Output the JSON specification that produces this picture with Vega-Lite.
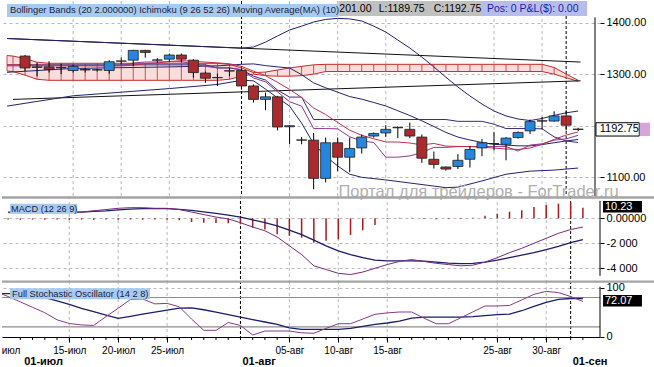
{
"$schema": "https://vega.github.io/schema/vega-lite/v6.json",
"background": "white",
"padding": 0,
"bounds": "flush",
"spacing": 0,
"config": {"view": {"stroke": null}, "font": "Liberation Sans", "axis": {"labelOverlap": false}},
"datasets": {
"candles": [{"i":0,"o":1335,"h":1337,"l":1306,"c":1312},{"i":1,"o":1313,"h":1322,"l":1296,"c":1314},{"i":2,"o":1314,"h":1325,"l":1303,"c":1309},{"i":3,"o":1313,"h":1320,"l":1300,"c":1312},{"i":4,"o":1307,"h":1318,"l":1303,"c":1315},{"i":5,"o":1309,"h":1312,"l":1303,"c":1308},{"i":6,"o":1308.5,"h":1310,"l":1305,"c":1308},{"i":7,"o":1307,"h":1327,"l":1301,"c":1324},{"i":8,"o":1325,"h":1332,"l":1319,"c":1325.5},{"i":9,"o":1327,"h":1347,"l":1316,"c":1346},{"i":10,"o":1346,"h":1347,"l":1332,"c":1342},{"i":11,"o":1327.5,"h":1331,"l":1322,"c":1327},{"i":12,"o":1329,"h":1340,"l":1324,"c":1337},{"i":13,"o":1337,"h":1340,"l":1322,"c":1329},{"i":14,"o":1327,"h":1329,"l":1293,"c":1303},{"i":15,"o":1302,"h":1305,"l":1283,"c":1292},{"i":16,"o":1293.5,"h":1301,"l":1277,"c":1293},{"i":17,"o":1306.5,"h":1312,"l":1296,"c":1306},{"i":18,"o":1307,"h":1311,"l":1270,"c":1277},{"i":19,"o":1277,"h":1280,"l":1245,"c":1251},{"i":20,"o":1251,"h":1264,"l":1230,"c":1256},{"i":21,"o":1256,"h":1258,"l":1191,"c":1197.5},{"i":22,"o":1198,"h":1201,"l":1164,"c":1200},{"i":23,"o":1172.5,"h":1178,"l":1164,"c":1172},{"i":24,"o":1172,"h":1186,"l":1077,"c":1098},{"i":25,"o":1098,"h":1177,"l":1090,"c":1167},{"i":26,"o":1167,"h":1177,"l":1112,"c":1139},{"i":27,"o":1139,"h":1177,"l":1110,"c":1156},{"i":28,"o":1157,"h":1183,"l":1146,"c":1178},{"i":29,"o":1180,"h":1187,"l":1177,"c":1185},{"i":30,"o":1186,"h":1201,"l":1178,"c":1193},{"i":31,"o":1196.5,"h":1199,"l":1176,"c":1196},{"i":32,"o":1193,"h":1206,"l":1176,"c":1180},{"i":33,"o":1178,"h":1183,"l":1128,"c":1137},{"i":34,"o":1135,"h":1150,"l":1117,"c":1125},{"i":35,"o":1120,"h":1121,"l":1113,"c":1116},{"i":36,"o":1121,"h":1145,"l":1116,"c":1133},{"i":37,"o":1135,"h":1161,"l":1119,"c":1154},{"i":38,"o":1157,"h":1174,"l":1141,"c":1167},{"i":39,"o":1165.5,"h":1188,"l":1152,"c":1165},{"i":40,"o":1164,"h":1178,"l":1133,"c":1176},{"i":41,"o":1177,"h":1189,"l":1175,"c":1187},{"i":42,"o":1190,"h":1212,"l":1184,"c":1208},{"i":43,"o":1209.5,"h":1217,"l":1193,"c":1209},{"i":44,"o":1209,"h":1228,"l":1208,"c":1219},{"i":45,"o":1219,"h":1230,"l":1191,"c":1201},{"i":46,"o":1193.5,"h":1196,"l":1189.75,"c":1192.75}],
"pl": [
{"s":"chanU","i":-1.5,"v":1369},{"s":"chanU","i":46.2,"v":1323.4},
{"s":"chanL","i":-1,"v":1251},{"s":"chanL","i":46.2,"v":1287},
{"s":"bbU","i":-1.5,"v":1369},{"s":"bbU","i":18,"v":1350.4},{"s":"bbU","i":19,"v":1352.5},{"s":"bbU","i":20,"v":1362},{"s":"bbU","i":21,"v":1374},{"s":"bbU","i":22,"v":1385.5},{"s":"bbU","i":23,"v":1393},{"s":"bbU","i":24,"v":1401},{"s":"bbU","i":25,"v":1406},{"s":"bbU","i":26,"v":1408},{"s":"bbU","i":27,"v":1407},{"s":"bbU","i":28,"v":1403},{"s":"bbU","i":29,"v":1393},{"s":"bbU","i":30,"v":1381.6},{"s":"bbU","i":31,"v":1366},{"s":"bbU","i":32,"v":1350.6},{"s":"bbU","i":33,"v":1333},{"s":"bbU","i":34,"v":1314},{"s":"bbU","i":35,"v":1294},{"s":"bbU","i":36,"v":1275},{"s":"bbU","i":37,"v":1257.6},{"s":"bbU","i":38,"v":1242},{"s":"bbU","i":39,"v":1228.5},{"s":"bbU","i":40,"v":1219},{"s":"bbU","i":41,"v":1213},{"s":"bbU","i":42,"v":1210},{"s":"bbU","i":43,"v":1214},{"s":"bbU","i":44,"v":1220},{"s":"bbU","i":45,"v":1225},{"s":"bbU","i":46,"v":1228.5},
{"s":"bbL","i":-1.5,"v":1238},{"s":"bbL","i":4,"v":1258},{"s":"bbL","i":8,"v":1265},{"s":"bbL","i":12,"v":1272},{"s":"bbL","i":16,"v":1280},{"s":"bbL","i":18,"v":1288},{"s":"bbL","i":19,"v":1287},{"s":"bbL","i":20,"v":1271},{"s":"bbL","i":21,"v":1254},{"s":"bbL","i":22,"v":1238},{"s":"bbL","i":23,"v":1205},{"s":"bbL","i":24,"v":1165},{"s":"bbL","i":25,"v":1141},{"s":"bbL","i":26,"v":1122},{"s":"bbL","i":27,"v":1106},{"s":"bbL","i":28,"v":1100},{"s":"bbL","i":30,"v":1095},{"s":"bbL","i":32,"v":1089},{"s":"bbL","i":34,"v":1083},{"s":"bbL","i":35,"v":1080},{"s":"bbL","i":36,"v":1081},{"s":"bbL","i":38,"v":1093},{"s":"bbL","i":40,"v":1106},{"s":"bbL","i":42,"v":1112},{"s":"bbL","i":44,"v":1114},{"s":"bbL","i":46,"v":1118},
{"s":"bbM","i":-1.5,"v":1303.5},{"s":"bbM","i":4,"v":1311},{"s":"bbM","i":8,"v":1312.5},{"s":"bbM","i":12,"v":1314},{"s":"bbM","i":16,"v":1316},{"s":"bbM","i":18,"v":1319},{"s":"bbM","i":19,"v":1319.8},{"s":"bbM","i":20,"v":1316.5},{"s":"bbM","i":21,"v":1314},{"s":"bbM","i":22,"v":1311.8},{"s":"bbM","i":23,"v":1299},{"s":"bbM","i":24,"v":1283},{"s":"bbM","i":25,"v":1273.5},{"s":"bbM","i":26,"v":1265},{"s":"bbM","i":27,"v":1256.5},{"s":"bbM","i":28,"v":1251.5},{"s":"bbM","i":29,"v":1245},{"s":"bbM","i":30,"v":1238.3},{"s":"bbM","i":31,"v":1229},{"s":"bbM","i":32,"v":1219.8},{"s":"bbM","i":33,"v":1209.5},{"s":"bbM","i":34,"v":1198.5},{"s":"bbM","i":35,"v":1187},{"s":"bbM","i":36,"v":1178},{"s":"bbM","i":37,"v":1172.3},{"s":"bbM","i":38,"v":1167.5},{"s":"bbM","i":39,"v":1164},{"s":"bbM","i":40,"v":1162.5},{"s":"bbM","i":41,"v":1161},{"s":"bbM","i":42,"v":1161},{"s":"bbM","i":43,"v":1163.5},{"s":"bbM","i":44,"v":1167},{"s":"bbM","i":45,"v":1170.5},{"s":"bbM","i":46,"v":1173.3},
{"s":"kijun","i":-1.5,"v":1318},{"s":"kijun","i":15,"v":1318},{"s":"kijun","i":16,"v":1312},{"s":"kijun","i":17,"v":1312},{"s":"kijun","i":18,"v":1308.5},{"s":"kijun","i":19,"v":1296},{"s":"kijun","i":20,"v":1288.5},{"s":"kijun","i":21,"v":1269},{"s":"kijun","i":22,"v":1255.5},{"s":"kijun","i":23,"v":1255.5},{"s":"kijun","i":24,"v":1212},{"s":"kijun","i":35,"v":1212},{"s":"kijun","i":36,"v":1208.5},{"s":"kijun","i":38,"v":1208.5},{"s":"kijun","i":39,"v":1203},{"s":"kijun","i":40,"v":1194.5},{"s":"kijun","i":42,"v":1194.5},{"s":"kijun","i":43,"v":1194},{"s":"kijun","i":44,"v":1178.5},{"s":"kijun","i":45,"v":1170.5},{"s":"kijun","i":46,"v":1167.5},
{"s":"tenkan","i":-1.5,"v":1316},{"s":"tenkan","i":7,"v":1316},{"s":"tenkan","i":8,"v":1316.5},{"s":"tenkan","i":9,"v":1321.5},{"s":"tenkan","i":10,"v":1323.5},{"s":"tenkan","i":11,"v":1323.5},{"s":"tenkan","i":12,"v":1324},{"s":"tenkan","i":13,"v":1324},{"s":"tenkan","i":14,"v":1320},{"s":"tenkan","i":15,"v":1315},{"s":"tenkan","i":16,"v":1312},{"s":"tenkan","i":17,"v":1312},{"s":"tenkan","i":18,"v":1308.5},{"s":"tenkan","i":19,"v":1292.5},{"s":"tenkan","i":20,"v":1285},{"s":"tenkan","i":21,"v":1265.5},{"s":"tenkan","i":22,"v":1246.5},{"s":"tenkan","i":23,"v":1238},{"s":"tenkan","i":24,"v":1194.5},{"s":"tenkan","i":25,"v":1194.5},{"s":"tenkan","i":26,"v":1194},{"s":"tenkan","i":27,"v":1178.5},{"s":"tenkan","i":28,"v":1170.5},{"s":"tenkan","i":29,"v":1167.5},{"s":"tenkan","i":30,"v":1139},{"s":"tenkan","i":31,"v":1139},{"s":"tenkan","i":32,"v":1141.5},{"s":"tenkan","i":33,"v":1148},{"s":"tenkan","i":34,"v":1158},{"s":"tenkan","i":35,"v":1158},{"s":"tenkan","i":36,"v":1159.5},{"s":"tenkan","i":40,"v":1159.5},{"s":"tenkan","i":41,"v":1151},{"s":"tenkan","i":42,"v":1162.5},{"s":"tenkan","i":43,"v":1165},{"s":"tenkan","i":44,"v":1172},{"s":"tenkan","i":45,"v":1174.5},{"s":"tenkan","i":46,"v":1181.5},
{"s":"ma10","i":-1.5,"v":1318},{"s":"ma10","i":8,"v":1316},{"s":"ma10","i":9,"v":1317.3},{"s":"ma10","i":10,"v":1320.3},{"s":"ma10","i":11,"v":1321.6},{"s":"ma10","i":12,"v":1324.4},{"s":"ma10","i":13,"v":1326.1},{"s":"ma10","i":14,"v":1324.9},{"s":"ma10","i":15,"v":1323.3},{"s":"ma10","i":16,"v":1321.8},{"s":"ma10","i":17,"v":1320},{"s":"ma10","i":18,"v":1315.2},{"s":"ma10","i":19,"v":1305.7},{"s":"ma10","i":20,"v":1297.1},{"s":"ma10","i":21,"v":1284.1},{"s":"ma10","i":22,"v":1270.4},{"s":"ma10","i":23,"v":1254.7},{"s":"ma10","i":24,"v":1234.2},{"s":"ma10","i":25,"v":1221.7},{"s":"ma10","i":26,"v":1206.3},{"s":"ma10","i":27,"v":1191.3},{"s":"ma10","i":28,"v":1181.4},{"s":"ma10","i":29,"v":1174.8},{"s":"ma10","i":30,"v":1168.5},{"s":"ma10","i":31,"v":1168.4},{"s":"ma10","i":32,"v":1166.4},{"s":"ma10","i":33,"v":1162.9},{"s":"ma10","i":34,"v":1165.6},{"s":"ma10","i":35,"v":1160.5},{"s":"ma10","i":36,"v":1159.9},{"s":"ma10","i":37,"v":1159.7},{"s":"ma10","i":38,"v":1158.6},{"s":"ma10","i":39,"v":1156.6},{"s":"ma10","i":40,"v":1154.9},{"s":"ma10","i":41,"v":1154},{"s":"ma10","i":42,"v":1156.8},{"s":"ma10","i":43,"v":1164},{"s":"ma10","i":44,"v":1173.4},{"s":"ma10","i":45,"v":1181.9},{"s":"ma10","i":46,"v":1187.9}
],
"cloud": [{"i":-1.5,"a":1336,"b":1306},{"i":-1,"a":1335,"b":1305},{"i":0,"a":1330,"b":1298},{"i":1,"a":1323,"b":1290},{"i":2,"a":1321,"b":1288},{"i":3,"a":1321,"b":1288},{"i":4,"a":1321,"b":1288},{"i":5,"a":1321,"b":1288},{"i":6,"a":1321,"b":1288},{"i":7,"a":1321,"b":1288},{"i":8,"a":1321,"b":1288},{"i":9,"a":1321,"b":1288},{"i":10,"a":1321,"b":1288},{"i":11,"a":1321,"b":1288},{"i":12,"a":1321,"b":1288},{"i":13,"a":1321,"b":1288},{"i":14,"a":1321,"b":1288},{"i":15,"a":1321,"b":1288},{"i":16,"a":1321,"b":1288},{"i":17,"a":1319,"b":1290},{"i":18,"a":1312,"b":1296},{"i":19,"a":1303,"b":1300},{"i":20,"a":1304,"b":1297},{"i":21,"a":1308,"b":1296},{"i":22,"a":1312,"b":1296},{"i":23,"a":1315,"b":1297},{"i":24,"a":1318,"b":1300},{"i":25,"a":1319,"b":1305},{"i":26,"a":1319,"b":1305},{"i":27,"a":1319,"b":1305},{"i":28,"a":1319,"b":1305},{"i":29,"a":1319,"b":1305},{"i":30,"a":1319,"b":1305},{"i":31,"a":1319,"b":1305},{"i":32,"a":1319,"b":1305},{"i":33,"a":1319,"b":1305},{"i":34,"a":1319,"b":1305},{"i":35,"a":1319,"b":1305},{"i":36,"a":1319,"b":1305},{"i":37,"a":1319,"b":1305},{"i":38,"a":1319,"b":1305},{"i":39,"a":1319,"b":1305},{"i":40,"a":1319,"b":1305},{"i":41,"a":1319,"b":1305},{"i":42,"a":1319,"b":1305},{"i":43,"a":1319,"b":1305},{"i":44,"a":1313,"b":1300},{"i":45,"a":1300,"b":1293},{"i":46,"a":1288,"b":1286}],
"macd": [{"i":-1,"m":0.45,"s":0.5,"h":-0.1},{"i":0,"m":0.45,"s":0.5,"h":-0.12},{"i":1,"m":0.45,"s":0.5,"h":-0.1},{"i":2,"m":0.45,"s":0.5,"h":-0.12},{"i":3,"m":0.45,"s":0.5,"h":-0.1},{"i":4,"m":0.45,"s":0.5,"h":-0.12},{"i":5,"m":0.5,"s":0.5,"h":-0.1},{"i":6,"m":0.6,"s":0.55,"h":-0.12},{"i":7,"m":0.7,"s":0.6,"h":-0.1},{"i":8,"m":0.8,"s":0.68,"h":-0.12},{"i":9,"m":0.85,"s":0.74,"h":-0.1},{"i":10,"m":0.85,"s":0.78,"h":-0.12},{"i":11,"m":0.8,"s":0.78,"h":-0.1},{"i":12,"m":0.8,"s":0.77,"h":-0.12},{"i":13,"m":0.7,"s":0.72,"h":-0.15},{"i":14,"m":0.5,"s":0.63,"h":-0.3},{"i":15,"m":0.3,"s":0.52,"h":-0.35},{"i":16,"m":0.1,"s":0.4,"h":-0.38},{"i":17,"m":-0.05,"s":0.25,"h":-0.4},{"i":18,"m":-0.35,"s":0.1,"h":-0.48},{"i":19,"m":-0.7,"s":-0.12,"h":-0.75},{"i":20,"m":-1.0,"s":-0.35,"h":-0.9},{"i":21,"m":-1.5,"s":-0.6,"h":-1.28},{"i":22,"m":-2.2,"s":-0.95,"h":-1.4},{"i":23,"m":-2.9,"s":-1.3,"h":-1.55},{"i":24,"m":-3.8,"s":-1.75,"h":-1.95},{"i":25,"m":-4.1,"s":-2.2,"h":-1.8},{"i":26,"m":-4.4,"s":-2.6,"h":-1.68},{"i":27,"m":-4.5,"s":-2.9,"h":-1.33},{"i":28,"m":-4.3,"s":-3.15,"h":-0.96},{"i":29,"m":-4.0,"s":-3.35,"h":-0.53},{"i":30,"m":-3.7,"s":-3.4,"h":-0.05},{"i":31,"m":-3.45,"s":-3.4,"h":0.04},{"i":32,"m":-3.3,"s":-3.4,"h":0.04},{"i":33,"m":-3.45,"s":-3.42,"h":-0.05},{"i":34,"m":-3.6,"s":-3.5,"h":-0.08},{"i":35,"m":-3.7,"s":-3.58,"h":-0.05},{"i":36,"m":-3.8,"s":-3.63,"h":-0.05},{"i":37,"m":-3.75,"s":-3.6,"h":0.05},{"i":38,"m":-3.5,"s":-3.5,"h":0.2},{"i":39,"m":-3.15,"s":-3.35,"h":0.37},{"i":40,"m":-2.75,"s":-3.15,"h":0.53},{"i":41,"m":-2.4,"s":-2.95,"h":0.64},{"i":42,"m":-2.0,"s":-2.75,"h":0.9},{"i":43,"m":-1.6,"s":-2.5,"h":1.07},{"i":44,"m":-1.2,"s":-2.25,"h":1.17},{"i":45,"m":-0.9,"s":-1.95,"h":1.25},{"i":46,"m":-0.7,"s":-1.7,"h":0.85}],
"stoch": [{"i":-1.5,"k":87,"d":88},{"i":-1,"k":82,"d":88},{"i":0,"k":71,"d":88},{"i":1,"k":60,"d":87},{"i":2,"k":49,"d":80},{"i":3,"k":34.5,"d":73},{"i":4,"k":27,"d":66},{"i":5,"k":24,"d":58},{"i":6,"k":23,"d":51},{"i":7,"k":41,"d":44},{"i":8,"k":58,"d":37.5},{"i":9,"k":76,"d":41.7},{"i":10,"k":77,"d":45.9},{"i":11,"k":67,"d":50},{"i":12,"k":68,"d":54.3},{"i":13,"k":61,"d":58.5},{"i":14,"k":36,"d":59},{"i":15,"k":13,"d":55},{"i":16,"k":13,"d":50},{"i":17,"k":29,"d":45},{"i":18,"k":23,"d":40},{"i":19,"k":3.5,"d":35},{"i":20,"k":11.6,"d":30},{"i":21,"k":11.6,"d":25},{"i":22,"k":11.6,"d":18},{"i":23,"k":8,"d":15},{"i":24,"k":7,"d":15},{"i":25,"k":17,"d":15},{"i":26,"k":26.5,"d":15},{"i":27,"k":26.5,"d":17},{"i":28,"k":36,"d":21},{"i":29,"k":45.7,"d":25},{"i":30,"k":48.6,"d":28},{"i":31,"k":50.4,"d":32},{"i":32,"k":50.4,"d":38},{"i":33,"k":38,"d":40},{"i":34,"k":26.5,"d":40},{"i":35,"k":26.5,"d":40},{"i":36,"k":38.5,"d":40},{"i":37,"k":50.6,"d":41},{"i":38,"k":62.7,"d":43},{"i":39,"k":62.7,"d":45},{"i":40,"k":63.8,"d":46},{"i":41,"k":75,"d":53},{"i":42,"k":86.5,"d":62},{"i":43,"k":92.5,"d":70},{"i":44,"k":90,"d":76},{"i":45,"k":82,"d":78},{"i":46,"k":72,"d":78}],
"vgw": [{"i":4},{"i":8},{"i":12},{"i":22},{"i":26},{"i":30},{"i":39},{"i":43}],
"vgm": [{"i":18},{"i":45}],
"levels": [{"v":20},{"v":80}],
"months": [{"t":"01-июл","i":0.15},{"t":"01-авг","i":18},{"t":"01-сен","i":45}]
},
"vconcat": [
{
"width": 598, "height": 195,
"layer": [
{"data": {"name": "vgw"}, "mark": {"type": "rule", "color": "#b8b8b8", "strokeDash": [3,3]}, "encoding": {"x": {"field": "i", "type": "quantitative", "scale": {"domain": [-1.5, 47.4], "nice": false, "zero": false}, "axis": null, "title": null}}},
{"data": {"name": "vgm"}, "mark": {"type": "rule", "color": "#000000", "strokeDash": [3,2]}, "encoding": {"x": {"field": "i", "type": "quantitative", "scale": {"domain": [-1.5, 47.4], "nice": false, "zero": false}, "axis": null, "title": null}}},
{"data": {"name": "cloud"}, "mark": {"type": "area", "color": "#f9dcdc", "clip": true}, "encoding": {"x": {"field": "i", "type": "quantitative", "scale": {"domain": [-1.5, 47.4], "nice": false, "zero": false}, "axis": null, "title": null}, "y": {"field": "a", "type": "quantitative", "scale": {"domain": [1063.8, 1441.7], "nice": false, "zero": false}, "title": null, "axis": {"orient": "right", "values": [1100,1150,1200,1250,1300,1350,1400], "labelExpr": "datum.value == 1200 ? '' : format(datum.value, '.2f')", "grid": true, "gridColor": "#b8b8b8", "gridDash": [3,3], "domain": false, "tickSize": 4, "tickColor": "#000", "labelColor": "#000", "labelFontSize": 11, "labelPadding": 2, "labelFont": "Liberation Sans"}}, "y2": {"field": "b"}}},
{"data": {"name": "cloud"}, "mark": {"type": "rule", "color": "#d05050", "clip": true}, "encoding": {"x": {"field": "i", "type": "quantitative", "scale": {"domain": [-1.5, 47.4], "nice": false, "zero": false}, "axis": null, "title": null}, "y": {"field": "a", "type": "quantitative", "scale": {"domain": [1063.8, 1441.7], "nice": false, "zero": false}, "title": null}, "y2": {"field": "b"}}},
{"data": {"name": "cloud"}, "mark": {"type": "line", "color": "#c42a2a", "strokeWidth": 1, "clip": true}, "encoding": {"x": {"field": "i", "type": "quantitative", "scale": {"domain": [-1.5, 47.4], "nice": false, "zero": false}, "axis": null, "title": null}, "y": {"field": "a", "type": "quantitative", "scale": {"domain": [1063.8, 1441.7], "nice": false, "zero": false}, "title": null}}},
{"data": {"name": "cloud"}, "mark": {"type": "line", "color": "#c42a2a", "strokeWidth": 1, "clip": true}, "encoding": {"x": {"field": "i", "type": "quantitative", "scale": {"domain": [-1.5, 47.4], "nice": false, "zero": false}, "axis": null, "title": null}, "y": {"field": "b", "type": "quantitative", "scale": {"domain": [1063.8, 1441.7], "nice": false, "zero": false}, "title": null}}},
{"data": {"name": "pl"}, "mark": {"type": "line", "strokeWidth": 1, "clip": true}, "encoding": {"x": {"field": "i", "type": "quantitative", "scale": {"domain": [-1.5, 47.4], "nice": false, "zero": false}, "axis": null, "title": null}, "y": {"field": "v", "type": "quantitative", "scale": {"domain": [1063.8, 1441.7], "nice": false, "zero": false}, "title": null}, "color": {"field": "s", "type": "nominal", "legend": null, "scale": {"domain": ["chanU","chanL","bbU","bbM","bbL","kijun","tenkan","ma10"], "range": ["#111111","#111111","#22226e","#22226e","#22226e","#3a2a78","#8e3a8e","#c0304c"]}}}},
{"data": {"name": "candles"}, "mark": {"type": "rule", "color": "#000000", "strokeWidth": 1, "clip": true}, "encoding": {"x": {"field": "i", "type": "quantitative", "scale": {"domain": [-1.5, 47.4], "nice": false, "zero": false}, "axis": null, "title": null}, "y": {"field": "l", "type": "quantitative", "scale": {"domain": [1063.8, 1441.7], "nice": false, "zero": false}, "title": null}, "y2": {"field": "h"}}},
{"data": {"name": "candles"}, "mark": {"type": "bar", "width": 10, "stroke": "#1e1e1e", "strokeWidth": 0.8, "clip": true}, "encoding": {"x": {"field": "i", "type": "quantitative", "scale": {"domain": [-1.5, 47.4], "nice": false, "zero": false}, "axis": null, "title": null}, "y": {"field": "o", "type": "quantitative", "scale": {"domain": [1063.8, 1441.7], "nice": false, "zero": false}, "title": null}, "y2": {"field": "c"}, "color": {"condition": {"test": "datum.c < datum.o", "value": "#aa2a2e"}, "value": "#2586e0"}}},
{"data": {"values": [{}]}, "mark": {"type": "rule", "color": "#000000", "strokeWidth": 1, "clip": false}, "encoding": {"x": {"datum": 47.4, "type": "quantitative", "scale": {"domain": [-1.5, 47.4], "nice": false, "zero": false}, "axis": null}, "y": {"datum": 1410, "type": "quantitative", "scale": {"domain": [1063.8, 1441.7], "nice": false, "zero": false}}, "y2": {"datum": 1063.8}}},
{"data": {"values": [{}]}, "mark": {"type": "rect", "color": "#a6caf0"}, "encoding": {"x": {"datum": -1.5, "type": "quantitative", "scale": {"domain": [-1.5, 47.4], "nice": false, "zero": false}, "axis": null}, "x2": {"datum": 26.06}, "y": {"datum": 1435.9, "type": "quantitative", "scale": {"domain": [1063.8, 1441.7], "nice": false, "zero": false}}, "y2": {"datum": 1410.7}}},
{"data": {"values": [{}]}, "mark": {"type": "rect", "color": "#c0c0c0"}, "encoding": {"x": {"datum": 26.06, "type": "quantitative", "scale": {"domain": [-1.5, 47.4], "nice": false, "zero": false}, "axis": null}, "x2": {"datum": 38.0}, "y": {"datum": 1441.7, "type": "quantitative", "scale": {"domain": [1063.8, 1441.7], "nice": false, "zero": false}}, "y2": {"datum": 1412.6}}},
{"data": {"values": [{}]}, "mark": {"type": "rect", "color": "#b6bdea"}, "encoding": {"x": {"datum": 38.0, "type": "quantitative", "scale": {"domain": [-1.5, 47.4], "nice": false, "zero": false}, "axis": null}, "x2": {"datum": 46.75}, "y": {"datum": 1441.7, "type": "quantitative", "scale": {"domain": [1063.8, 1441.7], "nice": false, "zero": false}}, "y2": {"datum": 1412.6}}},
{"data": {"values": [{}]}, "mark": {"type": "text", "text": "Bollinger Bands (20 2.000000)  Ichimoku (9 26 52 26)  Moving Average(MA) (10)", "align": "left", "baseline": "middle", "fontSize": 9.4, "color": "#1c1c3c", "font": "Liberation Sans"}, "encoding": {"x": {"datum": -1.25, "type": "quantitative", "scale": {"domain": [-1.5, 47.4], "nice": false, "zero": false}, "axis": null}, "y": {"datum": 1423.3, "type": "quantitative", "scale": {"domain": [1063.8, 1441.7], "nice": false, "zero": false}}}},
{"data": {"values": [{}]}, "mark": {"type": "text", "text": "201.00", "align": "left", "baseline": "middle", "fontSize": 10.5, "color": "#000000", "font": "Liberation Sans"}, "encoding": {"x": {"datum": 26.14, "type": "quantitative", "scale": {"domain": [-1.5, 47.4], "nice": false, "zero": false}, "axis": null}, "y": {"datum": 1425.3, "type": "quantitative", "scale": {"domain": [1063.8, 1441.7], "nice": false, "zero": false}}}},
{"data": {"values": [{}]}, "mark": {"type": "text", "text": "L:1189.75", "align": "left", "baseline": "middle", "fontSize": 10.5, "color": "#000000", "font": "Liberation Sans"}, "encoding": {"x": {"datum": 29.41, "type": "quantitative", "scale": {"domain": [-1.5, 47.4], "nice": false, "zero": false}, "axis": null}, "y": {"datum": 1425.3, "type": "quantitative", "scale": {"domain": [1063.8, 1441.7], "nice": false, "zero": false}}}},
{"data": {"values": [{}]}, "mark": {"type": "text", "text": "C:1192.75", "align": "left", "baseline": "middle", "fontSize": 10.5, "color": "#000000", "font": "Liberation Sans"}, "encoding": {"x": {"datum": 33.98, "type": "quantitative", "scale": {"domain": [-1.5, 47.4], "nice": false, "zero": false}, "axis": null}, "y": {"datum": 1425.3, "type": "quantitative", "scale": {"domain": [1063.8, 1441.7], "nice": false, "zero": false}}}},
{"data": {"values": [{}]}, "mark": {"type": "text", "text": "Pos: 0 P&L($): 0.00", "align": "left", "baseline": "middle", "fontSize": 10.5, "color": "#1a1ab4", "font": "Liberation Sans"}, "encoding": {"x": {"datum": 38.41, "type": "quantitative", "scale": {"domain": [-1.5, 47.4], "nice": false, "zero": false}, "axis": null}, "y": {"datum": 1425.3, "type": "quantitative", "scale": {"domain": [1063.8, 1441.7], "nice": false, "zero": false}}}},
{"data": {"values": [{}]}, "mark": {"type": "rect", "color": "#ffffff", "stroke": "#000000", "strokeWidth": 1, "clip": false}, "encoding": {"x": {"datum": 47.48, "type": "quantitative", "scale": {"domain": [-1.5, 47.4], "nice": false, "zero": false}, "axis": null}, "x2": {"datum": 51.08}, "y": {"datum": 1205.8, "type": "quantitative", "scale": {"domain": [1063.8, 1441.7], "nice": false, "zero": false}}, "y2": {"datum": 1180}}},
{"data": {"values": [{}]}, "mark": {"type": "rect", "color": "#d7a6d7", "clip": false}, "encoding": {"x": {"datum": 51.12, "type": "quantitative", "scale": {"domain": [-1.5, 47.4], "nice": false, "zero": false}, "axis": null}, "x2": {"datum": 51.97}, "y": {"datum": 1205.8, "type": "quantitative", "scale": {"domain": [1063.8, 1441.7], "nice": false, "zero": false}}, "y2": {"datum": 1180}}},
{"data": {"values": [{}]}, "mark": {"type": "text", "text": "1192.75", "align": "left", "baseline": "middle", "fontSize": 11, "color": "#000000", "font": "Liberation Sans", "clip": false}, "encoding": {"x": {"datum": 47.8, "type": "quantitative", "scale": {"domain": [-1.5, 47.4], "nice": false, "zero": false}, "axis": null}, "y": {"datum": 1192.75, "type": "quantitative", "scale": {"domain": [1063.8, 1441.7], "nice": false, "zero": false}}}},
{"data": {"values": [{}]}, "mark": {"type": "text", "text": "Портал для трейдеров - ForTrader.ru", "align": "left", "baseline": "alphabetic", "fontSize": 16.5, "color": "#b0b0b0", "font": "Liberation Sans", "clip": false}, "encoding": {"x": {"datum": 26.06, "type": "quantitative", "scale": {"domain": [-1.5, 47.4], "nice": false, "zero": false}, "axis": null}, "y": {"datum": 1062.5, "type": "quantitative", "scale": {"domain": [1063.8, 1441.7], "nice": false, "zero": false}}}}
]
},
{
"width": 598, "height": 85,
"layer": [
{"data": {"name": "vgw"}, "mark": {"type": "rule", "color": "#b8b8b8", "strokeDash": [3,3]}, "encoding": {"x": {"field": "i", "type": "quantitative", "scale": {"domain": [-1.5, 47.4], "nice": false, "zero": false}, "axis": null, "title": null}}},
{"data": {"name": "vgm"}, "mark": {"type": "rule", "color": "#000000", "strokeDash": [3,2]}, "encoding": {"x": {"field": "i", "type": "quantitative", "scale": {"domain": [-1.5, 47.4], "nice": false, "zero": false}, "axis": null, "title": null}}},
{"data": {"name": "macd"}, "mark": {"type": "rule", "color": "#a81c1c", "strokeWidth": 1.5, "clip": true}, "encoding": {"x": {"field": "i", "type": "quantitative", "scale": {"domain": [-1.5, 47.4], "nice": false, "zero": false}, "axis": null, "title": null}, "y": {"field": "h", "type": "quantitative", "scale": {"domain": [-5.016, 1.784], "nice": false, "zero": false}, "title": null, "axis": {"orient": "right", "values": [0, -2, -4], "labelExpr": "datum.value == 0 ? '0.00000' : (datum.value == -2 ? '-2 000' : '-4 000')", "grid": true, "gridColor": "#b8b8b8", "gridDash": [3,3], "domain": false, "tickSize": 4, "tickColor": "#000", "labelColor": "#000", "labelFontSize": 11, "labelPadding": 2, "labelFont": "Liberation Sans"}}, "y2": {"datum": 0}}},
{"data": {"name": "macd"}, "mark": {"type": "line", "color": "#1c1c6c", "strokeWidth": 1.3, "clip": true}, "encoding": {"x": {"field": "i", "type": "quantitative", "scale": {"domain": [-1.5, 47.4], "nice": false, "zero": false}, "axis": null, "title": null}, "y": {"field": "s", "type": "quantitative", "scale": {"domain": [-5.016, 1.784], "nice": false, "zero": false}, "title": null}}},
{"data": {"name": "macd"}, "mark": {"type": "line", "color": "#7a2a7a", "strokeWidth": 1, "clip": true}, "encoding": {"x": {"field": "i", "type": "quantitative", "scale": {"domain": [-1.5, 47.4], "nice": false, "zero": false}, "axis": null, "title": null}, "y": {"field": "m", "type": "quantitative", "scale": {"domain": [-5.016, 1.784], "nice": false, "zero": false}, "title": null}}},
{"data": {"values": [{}]}, "mark": {"type": "rule", "color": "#000000", "strokeWidth": 1, "clip": false}, "encoding": {"x": {"datum": 47.4, "type": "quantitative", "scale": {"domain": [-1.5, 47.4], "nice": false, "zero": false}, "axis": null}, "y": {"datum": 1.4, "type": "quantitative", "scale": {"domain": [-5.016, 1.784], "nice": false, "zero": false}}, "y2": {"datum": -4.6}}},
{"data": {"values": [{}]}, "mark": {"type": "rule", "color": "#a4a4a4", "strokeWidth": 2.6, "clip": false}, "encoding": {"x": {"datum": -1.5, "type": "quantitative", "scale": {"domain": [-1.5, 47.4], "nice": false, "zero": false}, "axis": null}, "x2": {"datum": 51.97}, "y": {"datum": 1.664, "type": "quantitative", "scale": {"domain": [-5.016, 1.784], "nice": false, "zero": false}}}},
{"data": {"values": [{}]}, "mark": {"type": "rect", "color": "#a6caf0"}, "encoding": {"x": {"datum": -0.84, "type": "quantitative", "scale": {"domain": [-1.5, 47.4], "nice": false, "zero": false}, "axis": null}, "x2": {"datum": 4.64}, "y": {"datum": 1.168, "type": "quantitative", "scale": {"domain": [-5.016, 1.784], "nice": false, "zero": false}}, "y2": {"datum": 0.368}}},
{"data": {"values": [{}]}, "mark": {"type": "text", "text": "MACD (12 26 9)", "align": "left", "baseline": "middle", "fontSize": 9.2, "color": "#1c1c3c", "font": "Liberation Sans"}, "encoding": {"x": {"datum": -0.76, "type": "quantitative", "scale": {"domain": [-1.5, 47.4], "nice": false, "zero": false}, "axis": null}, "y": {"datum": 0.768, "type": "quantitative", "scale": {"domain": [-5.016, 1.784], "nice": false, "zero": false}}}},
{"data": {"values": [{}]}, "mark": {"type": "rect", "color": "#000000", "clip": false}, "encoding": {"x": {"datum": 47.65, "type": "quantitative", "scale": {"domain": [-1.5, 47.4], "nice": false, "zero": false}, "axis": null}, "x2": {"datum": 50.83}, "y": {"datum": 1.38, "type": "quantitative", "scale": {"domain": [-5.016, 1.784], "nice": false, "zero": false}}, "y2": {"datum": 0.46}}},
{"data": {"values": [{}]}, "mark": {"type": "text", "text": "10.23", "align": "left", "baseline": "middle", "fontSize": 11, "color": "#ffffff", "font": "Liberation Sans", "clip": false}, "encoding": {"x": {"datum": 47.8, "type": "quantitative", "scale": {"domain": [-1.5, 47.4], "nice": false, "zero": false}, "axis": null}, "y": {"datum": 0.9, "type": "quantitative", "scale": {"domain": [-5.016, 1.784], "nice": false, "zero": false}}}}
]
},
{
"width": 598, "height": 56,
"layer": [
{"data": {"name": "vgw"}, "mark": {"type": "rule", "color": "#b8b8b8", "strokeDash": [3,3]}, "encoding": {"x": {"field": "i", "type": "quantitative", "scale": {"domain": [-1.5, 47.4], "nice": false, "zero": false}, "title": null, "axis": {"orient": "bottom", "values": [4, 8, 12, 22, 26, 30, 39, 43], "labelExpr": "datum.value == 4 ? '15-июл' : datum.value == 8 ? '20-июл' : datum.value == 12 ? '25-июл' : datum.value == 22 ? '05-авг' : datum.value == 26 ? '10-авг' : datum.value == 30 ? '15-авг' : datum.value == 39 ? '25-авг' : '30-авг'", "tickSize": 5, "tickColor": "#000", "domainColor": "#000", "labelColor": "#000", "labelFontSize": 10, "labelPadding": 3, "labelOverlap": false, "labelFlush": false, "labelBound": false, "grid": false, "labelFont": "Liberation Sans"}}}},
{"data": {"name": "vgm"}, "mark": {"type": "rule", "color": "#000000", "strokeDash": [3,2]}, "encoding": {"x": {"field": "i", "type": "quantitative", "scale": {"domain": [-1.5, 47.4], "nice": false, "zero": false}, "title": null}}},
{"data": {"name": "candles"}, "mark": {"type": "rule", "color": "#000000", "strokeWidth": 1, "clip": false}, "encoding": {"x": {"field": "i", "type": "quantitative", "scale": {"domain": [-1.5, 47.4], "nice": false, "zero": false}, "title": null}, "y": {"datum": -0.6, "type": "quantitative", "scale": {"domain": [-0.6, 113.7], "nice": false, "zero": false}}, "y2": {"datum": -6.7}}},
{"data": {"name": "levels"}, "mark": {"type": "rule", "color": "#8c8c8c", "strokeWidth": 1.2}, "encoding": {"y": {"field": "v", "type": "quantitative", "scale": {"domain": [-0.6, 113.7], "nice": false, "zero": false}, "title": null, "axis": {"orient": "right", "values": [0, 50, 100], "grid": true, "gridColor": "#b8b8b8", "gridDash": [3,3], "domain": false, "tickSize": 4, "tickColor": "#000", "labelColor": "#000", "labelFontSize": 11, "labelPadding": 2, "labelFont": "Liberation Sans"}}}},
{"data": {"name": "stoch"}, "mark": {"type": "line", "color": "#1c1c6c", "strokeWidth": 1.3, "clip": true}, "encoding": {"x": {"field": "i", "type": "quantitative", "scale": {"domain": [-1.5, 47.4], "nice": false, "zero": false}, "title": null}, "y": {"field": "d", "type": "quantitative", "scale": {"domain": [-0.6, 113.7], "nice": false, "zero": false}, "title": null}}},
{"data": {"name": "stoch"}, "mark": {"type": "line", "color": "#8a3a8a", "strokeWidth": 1, "clip": true}, "encoding": {"x": {"field": "i", "type": "quantitative", "scale": {"domain": [-1.5, 47.4], "nice": false, "zero": false}, "title": null}, "y": {"field": "k", "type": "quantitative", "scale": {"domain": [-0.6, 113.7], "nice": false, "zero": false}, "title": null}}},
{"data": {"values": [{}]}, "mark": {"type": "rule", "color": "#000000", "strokeWidth": 1, "clip": false}, "encoding": {"x": {"datum": 47.4, "type": "quantitative", "scale": {"domain": [-1.5, 47.4], "nice": false, "zero": false}}, "y": {"datum": 102, "type": "quantitative", "scale": {"domain": [-0.6, 113.7], "nice": false, "zero": false}}, "y2": {"datum": -0.6}}},
{"data": {"values": [{}]}, "mark": {"type": "rule", "color": "#a4a4a4", "strokeWidth": 2.4, "clip": false}, "encoding": {"x": {"datum": -1.5, "type": "quantitative", "scale": {"domain": [-1.5, 47.4], "nice": false, "zero": false}}, "x2": {"datum": 51.97}, "y": {"datum": 112.5, "type": "quantitative", "scale": {"domain": [-0.6, 113.7], "nice": false, "zero": false}}}},
{"data": {"values": [{}]}, "mark": {"type": "rect", "color": "#a6caf0"}, "encoding": {"x": {"datum": -0.84, "type": "quantitative", "scale": {"domain": [-1.5, 47.4], "nice": false, "zero": false}}, "x2": {"datum": 10.6}, "y": {"datum": 99, "type": "quantitative", "scale": {"domain": [-0.6, 113.7], "nice": false, "zero": false}}, "y2": {"datum": 76.5}}},
{"data": {"values": [{}]}, "mark": {"type": "text", "text": "Full Stochastic Oscillator (14 2 8)", "align": "left", "baseline": "middle", "fontSize": 9.3, "color": "#1c1c3c", "font": "Liberation Sans"}, "encoding": {"x": {"datum": -0.68, "type": "quantitative", "scale": {"domain": [-1.5, 47.4], "nice": false, "zero": false}}, "y": {"datum": 87.7, "type": "quantitative", "scale": {"domain": [-0.6, 113.7], "nice": false, "zero": false}}}},
{"data": {"values": [{}]}, "mark": {"type": "rect", "color": "#000000", "clip": false}, "encoding": {"x": {"datum": 47.65, "type": "quantitative", "scale": {"domain": [-1.5, 47.4], "nice": false, "zero": false}}, "x2": {"datum": 50.83}, "y": {"datum": 85.1, "type": "quantitative", "scale": {"domain": [-0.6, 113.7], "nice": false, "zero": false}}, "y2": {"datum": 61.6}}},
{"data": {"values": [{}]}, "mark": {"type": "text", "text": "72.07", "align": "left", "baseline": "middle", "fontSize": 11, "color": "#ffffff", "font": "Liberation Sans", "clip": false}, "encoding": {"x": {"datum": 47.8, "type": "quantitative", "scale": {"domain": [-1.5, 47.4], "nice": false, "zero": false}}, "y": {"datum": 73.3, "type": "quantitative", "scale": {"domain": [-0.6, 113.7], "nice": false, "zero": false}}}},
{"data": {"name": "months"}, "mark": {"type": "text", "align": "left", "baseline": "middle", "dx": 2, "fontSize": 11, "fontWeight": "bold", "color": "#000000", "font": "Liberation Sans", "clip": false}, "encoding": {"x": {"field": "i", "type": "quantitative", "scale": {"domain": [-1.5, 47.4], "nice": false, "zero": false}, "title": null}, "y": {"datum": -51.6, "type": "quantitative", "scale": {"domain": [-0.6, 113.7], "nice": false, "zero": false}}, "text": {"field": "t"}}},
{"data": {"values": [{}]}, "mark": {"type": "text", "text": "июл", "align": "right", "baseline": "middle", "fontSize": 10, "color": "#000000", "font": "Liberation Sans", "clip": false}, "encoding": {"x": {"datum": 0, "type": "quantitative", "scale": {"domain": [-1.5, 47.4], "nice": false, "zero": false}}, "y": {"datum": -28.2, "type": "quantitative", "scale": {"domain": [-0.6, 113.7], "nice": false, "zero": false}}}}
]
}
]
}
